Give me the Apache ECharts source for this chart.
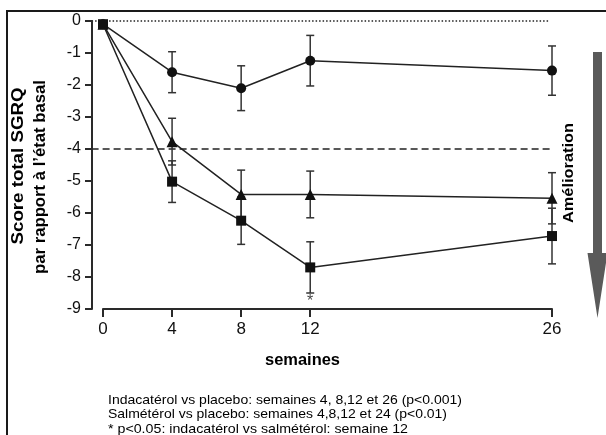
<!DOCTYPE html>
<html>
<head>
<meta charset="utf-8">
<script src="https://cdn.jsdelivr.net/npm/echarts@6/dist/echarts.min.js"></script>
<style>
html,body{margin:0;padding:0;background:#fff;}
#chart{width:606px;height:435px;}
</style>
</head>
<body>
<div id="chart"></div>
<script>
// ---- data ----
const weeks = [0, 4, 8, 12, 26];
const placebo = [-0.1, -1.6, -2.1, -1.24, -1.55];
const placeboErr = [0, 0.64, 0.7, 0.79, 0.77];
const salmeterol = [-0.1, -3.77, -5.42, -5.42, -5.54];
const salmeterolErr = [0, 0.73, 0.76, 0.73, 0.8];
const indacaterol = [-0.1, -5.02, -6.24, -7.7, -6.72];
const indacaterolErr = [0, 0.65, 0.74, 0.8, 0.87];
const xTickValues = [0, 4, 8, 12, 26];
const yTickMin = -9, yTickMax = 0, yTickStep = 1;
const refDotted = [[-0.66, 0], [25.82, 0]];
const refDashed = [[-0.66, -4], [26, -4]];
const sigMarks = [[12, -8.78, '*']];
const xTitle = 'semaines';
const yTitleLines = ['Score total SGRQ', 'par rapport à l\u2019état basal'];
const arrowLabel = 'Amélioration';
const footnotes = [
  'Indacatérol vs placebo: semaines 4, 8,12 et 26 (p<0.001)',
  'Salmétérol vs placebo: semaines 4,8,12 et 24 (p<0.01)',
  '* p<0.05: indacatérol vs salmétérol: semaine 12'
];

// ---- helpers ----
const FAM = '"Liberation Sans", Arial, sans-serif';
const ctx = document.createElement('canvas').getContext('2d');
function measure(text, font) { ctx.font = font; return ctx.measureText(text).width; }
function fitText(text, font, cx, cy, len, rot, align) {
  const w = measure(text, font);
  const s = len / w;
  return {
    type: 'text', x: cx, y: cy, rotation: rot || 0, scaleX: s, scaleY: 1,
    style: { text: text, font: font, fill: '#000', textAlign: align || 'center', textVerticalAlign: 'middle' },
    z: 10
  };
}
function pairs(xs, ys) { return xs.map((x, i) => [x, ys[i]]); }
function errData(xs, ys, es) { return xs.map((x, i) => [x, ys[i], es[i]]).filter(d => d[2] > 0); }

function errSeries(data) {
  return {
    type: 'custom', data: data, z: 1, silent: true,
    renderItem: function (params, api) {
      const x = api.value(0), y = api.value(1), e = api.value(2);
      const top = api.coord([x, y + e]);
      const bot = api.coord([x, y - e]);
      const hw = 4;
      const st = { stroke: '#333', lineWidth: 1.5 };
      return {
        type: 'group', children: [
          { type: 'line', shape: { x1: top[0], y1: top[1], x2: bot[0], y2: bot[1] }, style: st },
          { type: 'line', shape: { x1: top[0] - hw, y1: top[1], x2: top[0] + hw, y2: top[1] }, style: st },
          { type: 'line', shape: { x1: bot[0] - hw, y1: bot[1], x2: bot[0] + hw, y2: bot[1] }, style: st }
        ]
      };
    }
  };
}
function lineSeries(name, ys, symbol, size, z) {
  return {
    name: name, type: 'line', data: pairs(weeks, ys), symbol: symbol, symbolSize: size,
    z: z, itemStyle: { color: '#111' }, lineStyle: { color: '#222', width: 1.5 }, silent: true
  };
}

const chart = echarts.init(document.getElementById('chart'), null, { renderer: 'canvas' });

const graphics = [
  { id: 'frame', type: 'rect', shape: { x: 7, y: 11, width: 640, height: 460 }, style: { fill: null, stroke: '#1a1a1a', lineWidth: 2 }, z: 0 },
  { id: 'arrow', type: 'polygon', shape: { points: [[593, 52], [602, 52], [602, 253], [607.5, 253], [597.5, 318], [587.5, 253], [593, 253]] }, style: { fill: '#5a5a5a' }, z: 5 },
  fitText(yTitleLines[0], 'bold 16px ' + FAM, 18.5, 166, 157, Math.PI / 2),
  fitText(yTitleLines[1], 'bold 16px ' + FAM, 40.5, 177, 194, Math.PI / 2),
  fitText(arrowLabel, 'bold 15px ' + FAM, 569, 173, 100, Math.PI / 2),
  fitText(xTitle, 'bold 16px ' + FAM, 302.5, 361, 75, 0),
  fitText(footnotes[0], '13px ' + FAM, 108, 400, 354, 0, 'left'),
  fitText(footnotes[1], '13px ' + FAM, 108, 414.5, 339, 0, 'left'),
  fitText(footnotes[2], '13px ' + FAM, 108, 429, 300, 0, 'left')
];

const option = {
  animation: false,
  backgroundColor: '#fff',
  grid: { left: 103, right: 54, top: 21, bottom: 126, containLabel: false, outerBoundsMode: 'none' },
  xAxis: {
    type: 'value', min: 0, max: 26,
    axisLine: { show: true, onZero: false, lineStyle: { color: '#2a2a2a', width: 2 } },
    axisTick: { show: true, length: 8, customValues: xTickValues, lineStyle: { color: '#2a2a2a', width: 2 } },
    axisLabel: { show: true, customValues: xTickValues, fontSize: 17, fontFamily: FAM, color: '#111', margin: 12 },
    splitLine: { show: false }
  },
  yAxis: {
    type: 'value', min: yTickMin, max: yTickMax, interval: yTickStep, offset: 11,
    axisLine: { show: true, onZero: false, lineStyle: { color: '#2a2a2a', width: 2 } },
    axisTick: { show: true, length: 7, lineStyle: { color: '#2a2a2a', width: 2 } },
    axisLabel: { fontSize: 16, fontFamily: FAM, color: '#111', margin: 11 },
    splitLine: { show: false }
  },
  series: [
    errSeries(errData(weeks, placebo, placeboErr)),
    errSeries(errData(weeks, salmeterol, salmeterolErr)),
    errSeries(errData(weeks, indacaterol, indacaterolErr)),
    lineSeries('Placebo', placebo, 'circle', 10, 3),
    lineSeries('Salmétérol', salmeterol, 'triangle', 11, 4),
    lineSeries('Indacatérol', indacaterol, 'rect', 10, 5),
    { type: 'scatter', data: sigMarks, symbolSize: 0, z: 6, clip: false, silent: true,
      label: { show: true, position: 'inside', formatter: p => p.data[2], fontSize: 16, fontFamily: FAM, color: '#111' } }
  ],
  graphic: graphics
};
chart.setOption(option);

// reference lines placed through the chart's own scales
function refLine(id, pts, dash) {
  const a = chart.convertToPixel({ gridIndex: 0 }, pts[0]);
  const b = chart.convertToPixel({ gridIndex: 0 }, pts[1]);
  return { id: id, type: 'line', shape: { x1: a[0], y1: a[1], x2: b[0], y2: b[1] },
    style: { stroke: '#222', lineWidth: 1.5, lineDash: dash }, z: 0, silent: true };
}
chart.setOption({ graphic: [refLine('dotted', refDotted, [1.5, 2]), refLine('dashed', refDashed, [7, 4])] });
</script>
</body>
</html>
